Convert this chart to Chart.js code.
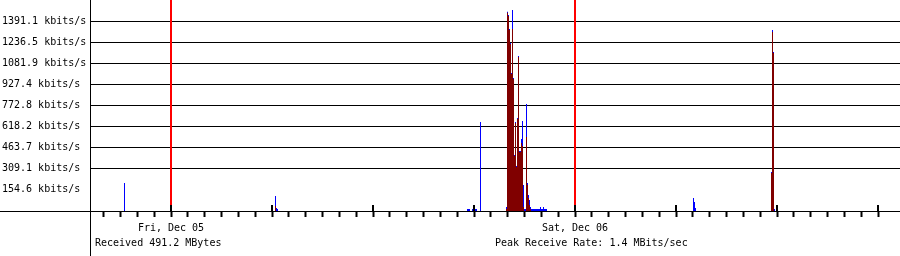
<!DOCTYPE html>
<html>
<head>
<meta charset="utf-8">
<script src="https://cdn.jsdelivr.net/npm/chart.js@4.4.1/dist/chart.umd.min.js"></script>
<style>
  html, body { margin: 0; padding: 0; background: #fff; }
  canvas { display: block; }
</style>
</head>
<body>
<canvas id="traffic" width="900" height="256"></canvas>
<script>
// time is in hours counted from Thu Dec 04 00:00; one sample per graph column
const sampleHours = 24 / 404;
const startHour = 24 - 81 * sampleHours;
const endHour = startHour + 810 * sampleHours;
const lastTickHour = 66;

// samples (only the non-empty ones)
const sampleTimes = [
    21.238,
    30.208, 30.267, 30.327,
    41.614, 41.673, 41.733, 41.911, 41.970, 42.030, 42.089, 42.149, 42.386,
    43.931, 43.990, 44.050, 44.109, 44.168, 44.228, 44.287, 44.347, 44.406, 44.465,
    44.525, 44.584, 44.644, 44.703, 44.762, 44.822, 44.881, 44.941, 45.000, 45.059,
    45.119, 45.178, 45.238, 45.297, 45.356, 45.416, 45.475, 45.535, 45.594, 45.653,
    45.713, 45.772, 45.832, 45.891, 45.950, 46.010, 46.069, 46.129, 46.188, 46.248, 46.307,
    55.040, 55.099, 55.158,
    59.673, 59.733, 59.792, 59.851
];
// average receive rate, kbits/s (dark red)
const rxKbps = [
    0,
    37, 0, 0,
    0, 0, 0, 0, 0, 0, 0, 0, 0,
    15, 1453, 1428, 1326, 1223, 1004, 1333, 967, 403, 645,
    322, 674, 1128, 432, 432, 498, 476, 29, 0, 0,
    542, 190, 95, 44, 15, 0, 0, 0, 0, 0,
    0, 0, 0, 0, 0, 0, 0, 0, 0, 0, 0,
    0, 0, 0,
    278, 1311, 1157, 0
];
// peak receive rate, kbits/s (blue)
const peakKbps = [
    205,
    110, 22, 15,
    15, 15, 15, 15, 15, 15, 15, 15, 652,
    29, 1460, 1436, 1333, 1231, 1011, 1472, 974, 410, 652,
    330, 681, 1135, 440, 440, 527, 659, 190, 15, 15,
    784, 205, 117, 81, 29, 15, 15, 15, 15, 15,
    15, 15, 15, 15, 29, 15, 15, 29, 15, 15, 15,
    95, 66, 22,
    286, 1326, 1165, 15
];

const yMax = 1545.625;
const yStep = 154.5625;
const yTickLabels = [
    "154.6 kbits/s", "309.1 kbits/s", "463.7 kbits/s", "618.2 kbits/s", "772.8 kbits/s",
    "927.4 kbits/s", "1081.9 kbits/s", "1236.5 kbits/s", "1391.1 kbits/s"
];
const dayTicks = [24, 48];
const dayLabels = ["Fri, Dec 05", "Sat, Dec 06"];
const totalText = "Received 491.2 MBytes";
const peakText = "Peak Receive Rate: 1.4 MBits/sec";

const monoFont = { family: "'DejaVu Sans Mono', monospace", size: 10 };

// snap every reading onto its sample column
function toBars(values) {
    return sampleTimes.map((t, i) => {
        const col = Math.floor((t - startHour) / sampleHours);
        return { x: startHour + (col + 0.5) * sampleHours, y: values[i] };
    });
}

const chrome = {
    id: "chrome",
    afterDraw(chart) {
        const { ctx, chartArea: area } = chart;
        const x = chart.scales.x;
        ctx.save();
        x.ticks.forEach((t) => {
            const px = Math.round(x.getPixelForValue(t.value)) - 1;
            if (t.value % 24 === 0) {
                ctx.fillStyle = "#ff0000";
                ctx.fillRect(px, area.top, 2, area.bottom - 6 - area.top);
            }
            if (t.value % 6 === 0) {
                ctx.fillStyle = "#000000";
                ctx.fillRect(px, area.bottom - 6, 2, 6);
            }
        });
        ctx.fillStyle = "#000000";
        ctx.fillRect(0, area.bottom, chart.width, 1);
        ctx.fillRect(area.left, 0, 1, chart.height);

        ctx.font = "10px 'DejaVu Sans Mono', monospace";
        ctx.textAlign = "left";
        ctx.textBaseline = "alphabetic";
        ctx.fillText(totalText, 95, 246);
        ctx.fillText(peakText, 495, 246);
        ctx.restore();
    }
};

new Chart(document.getElementById("traffic"), {
    type: "bar",
    plugins: [chrome],
    data: {
        datasets: [
            {
                label: "Received",
                data: toBars(rxKbps),
                backgroundColor: "#800000",
                barThickness: 1,
                grouped: false,
                borderWidth: 0,
                inflateAmount: 0,
            },
            {
                label: "Peak",
                data: toBars(peakKbps),
                backgroundColor: "#0000ff",
                barThickness: 1,
                grouped: false,
                borderWidth: 0,
                inflateAmount: 0,
            },
        ],
    },
    options: {
        responsive: false,
        animation: false,
        events: [],
        layout: { padding: { left: 2, top: 0, right: 0, bottom: 0 } },
        plugins: {
            legend: { display: false },
            tooltip: { enabled: false },
        },
        scales: {
            x: {
                type: "linear",
                min: startHour,
                max: endHour,
                offset: false,
                afterFit: (scale) => {
                    scale.height = 45;
                    scale.paddingLeft = 0;
                    scale.paddingRight = 0;
                },
                ticks: {
                    stepSize: 1,
                    includeBounds: false,
                    autoSkip: false,
                    maxRotation: 0,
                    minRotation: 0,
                    color: "#000000",
                    font: monoFont,
                    padding: 5,
                    callback: (v) => {
                        const k = dayTicks.indexOf(v);
                        return k >= 0 ? dayLabels[k] : "";
                    },
                },
                grid: {
                    offset: false,
                    drawOnChartArea: false,
                    drawTicks: true,
                    tickLength: 6,
                    tickWidth: 2,
                    tickColor: (c) => c.tick && c.tick.value > lastTickHour ? "rgba(0,0,0,0)" : "#000000",
                },
                border: { display: false },
            },
            y: {
                min: 0,
                max: yMax,
                z: 1,
                afterFit: (scale) => {
                    scale.width = 88;
                    scale.paddingTop = 0;
                    scale.paddingBottom = 0;
                },
                ticks: {
                    stepSize: yStep,
                    crossAlign: "far",
                    padding: 0,
                    color: "#000000",
                    font: monoFont,
                    callback: (v, i) => yTickLabels[i - 1] ?? null,
                },
                grid: {
                    color: (c) => (c.index === 0 || c.tick.value >= yMax) ? "rgba(0,0,0,0)" : "#000000",
                    lineWidth: 1,
                    drawTicks: false,
                },
                border: { display: false },
            },
        },
    },
});
</script>
</body>
</html>
